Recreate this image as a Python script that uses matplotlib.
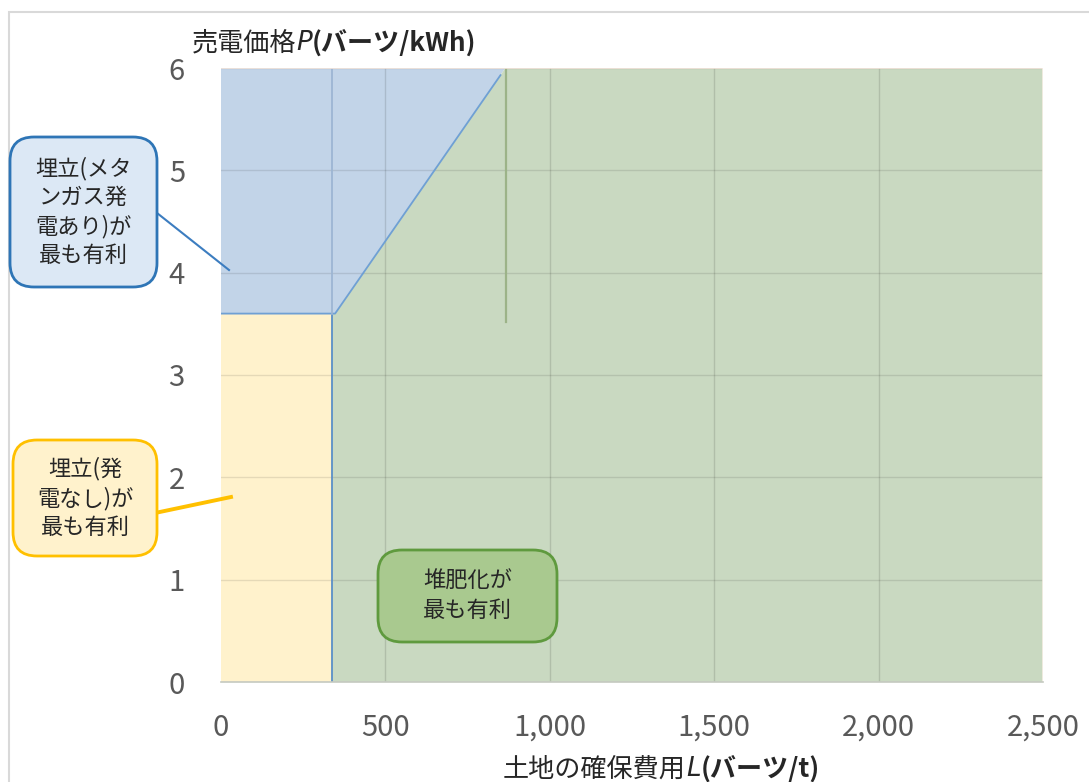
import matplotlib
matplotlib.use("Agg")
import matplotlib.pyplot as plt
from matplotlib.patches import Polygon, FancyBboxPatch, Rectangle
from matplotlib.lines import Line2D
from matplotlib.transforms import IdentityTransform

plt.rcParams['font.family'] = ['Noto Sans CJK JP', 'DejaVu Sans']

# Axis ticks
x_ticks = [0, 500, 1000, 1500, 2000, 2500]
x_tick_labels = ['0', '500', '1,000', '1,500', '2,000', '2,500']
y_ticks = [0, 1, 2, 3, 4, 5, 6]

# Region boundaries (land cost L [baht/t], electricity price P [baht/kWh])
landfill_L = [0, 337]          # landfill without power generation: L range
landfill_P = [0, 3.6]          # ... and P range
biogas_L = [0, 347, 865, 0]    # landfill with methane power generation
biogas_P = [3.6, 3.6, 6.0, 6.0]
compost_L = [337, 2500, 2500, 865, 347, 337]
compost_P = [0, 0, 6.0, 6.0, 3.6, 3.6]
diag_L = [0, 347, 850]         # boundary line of the methane region
diag_P = [3.6, 3.6, 5.93]
marker_L = [867, 867]
marker_P = [3.52, 6.0]

W, H = 1089, 782
fig = plt.figure(figsize=(W / 100, H / 100), dpi=100)
ax = fig.add_axes([221 / W, 1 - 682 / H, (1043 - 221) / W, (682 - 68) / H])
ax.set_xlim(0, 2500)
ax.set_ylim(0, 6)

# Filled regions
ax.add_patch(Rectangle((landfill_L[0], landfill_P[0]), landfill_L[1] - landfill_L[0],
                       landfill_P[1] - landfill_P[0], facecolor='#fff2cc', edgecolor='none', zorder=1))
ax.add_patch(Polygon(list(zip(biogas_L, biogas_P)), closed=True,
                     facecolor='#c2d4e8', edgecolor='none', zorder=1))
ax.add_patch(Polygon(list(zip(compost_L, compost_P)), closed=True,
                     facecolor='#c9d9c1', edgecolor='none', zorder=1))

# Grid on top of the fills
for xv in x_ticks[1:-1]:
    ax.axvline(xv, color='#000000', alpha=0.12, lw=1.0, zorder=2)
for yv in y_ticks[1:]:
    ax.axhline(yv, color='#000000', alpha=0.10, lw=1.0, zorder=2)

# Boundary lines
ax.plot(diag_L, diag_P, color='#6fa0d4', lw=1.3, zorder=3)
ax.plot([landfill_L[1]] * 2, landfill_P, color='#5b8fc8', lw=1.3, zorder=3)
ax.plot([landfill_L[1]] * 2, [landfill_P[1], 6.0], color='#9db6d3', lw=1.3, zorder=3)
ax.plot(marker_L, marker_P, color='#9cb388', lw=1.6, zorder=3)
ax.axhline(6.0, color='#f6e6dc', lw=1.2, zorder=3)
ax.axvline(2500, color='#f6eee4', lw=1.2, zorder=3)

for s in ['top', 'right', 'left']:
    ax.spines[s].set_visible(False)
ax.spines['bottom'].set_color('#c5c9c0')
ax.spines['bottom'].set_linewidth(1.2)
ax.spines['bottom'].set_zorder(4)

ax.set_xticks(x_ticks)
ax.set_xticklabels(x_tick_labels)
ax.set_yticks(y_ticks)
ax.tick_params(axis='both', length=0, labelsize=21, labelcolor='#595959')
ax.tick_params(axis='y', pad=26)
ax.tick_params(axis='x', pad=22)

# Outer frame
fig.add_artist(Rectangle((9, -10), 1200, H - 12 + 10, transform=IdentityTransform(),
                         facecolor='none', edgecolor='#d9d9d9', lw=1.5))

# Axis titles
TITLE_SIZE = 18.8
t1 = fig.text(192 / W, 1 - 43 / H, '売電価格', fontsize=TITLE_SIZE, color='#262626',
              va='center', ha='left')
t2 = ax.annotate('P', xy=(1, 0), xycoords=t1, va='bottom', ha='left', fontsize=TITLE_SIZE,
                 style='italic', family='DejaVu Sans', color='#262626')
t3 = ax.annotate('(バーツ/kWh)', xy=(1, 0), xycoords=t2, va='bottom', ha='left',
                 fontsize=TITLE_SIZE, fontweight='bold', color='#262626')

x1 = fig.text(503 / W, 1 - 769 / H, '土地の確保費用', fontsize=TITLE_SIZE, color='#262626',
              va='center', ha='left')
x2 = ax.annotate('L', xy=(1, 0), xycoords=x1, va='bottom', ha='left', fontsize=TITLE_SIZE,
                 style='italic', family='DejaVu Sans', color='#262626')
x3 = ax.annotate('(バーツ/t)', xy=(1, 0), xycoords=x2, va='bottom', ha='left',
                 fontsize=TITLE_SIZE, fontweight='bold', color='#262626')


def callout(x0, y0, x1_, y1_, face, edge, text):
    box = FancyBboxPatch((x0, H - y1_), x1_ - x0, y1_ - y0,
                         boxstyle='round,pad=0,rounding_size=24',
                         transform=IdentityTransform(), facecolor=face,
                         edgecolor=edge, lw=2.0, zorder=10)
    fig.add_artist(box)
    fig.text((x0 + x1_) / 2 / W, 1 - (y0 + y1_) / 2 / H, text, ha='center', va='center',
             fontsize=16, color='#262626', linespacing=1.32, zorder=11)


def leader(xa, ya, xb, yb, color, lw):
    fig.add_artist(Line2D([xa, xb], [H - ya, H - yb], transform=IdentityTransform(),
                          color=color, lw=lw, zorder=9))


leader(157, 213, 229, 270, '#3c7dc0', 1.5)
leader(155, 513, 231, 497, '#ffc000', 2.8)
callout(10, 137, 157, 287, '#dce8f5', '#2e75b6', '埋立(メタ\nンガス発\n電あり)が\n最も有利')
callout(13, 440, 157, 556, '#fff2cc', '#ffc000', '埋立(発\n電なし)が\n最も有利')
callout(378, 550, 557, 642, '#a9c98f', '#5f9a3e', '堆肥化が\n最も有利')

fig.savefig('out.png', dpi=100)
